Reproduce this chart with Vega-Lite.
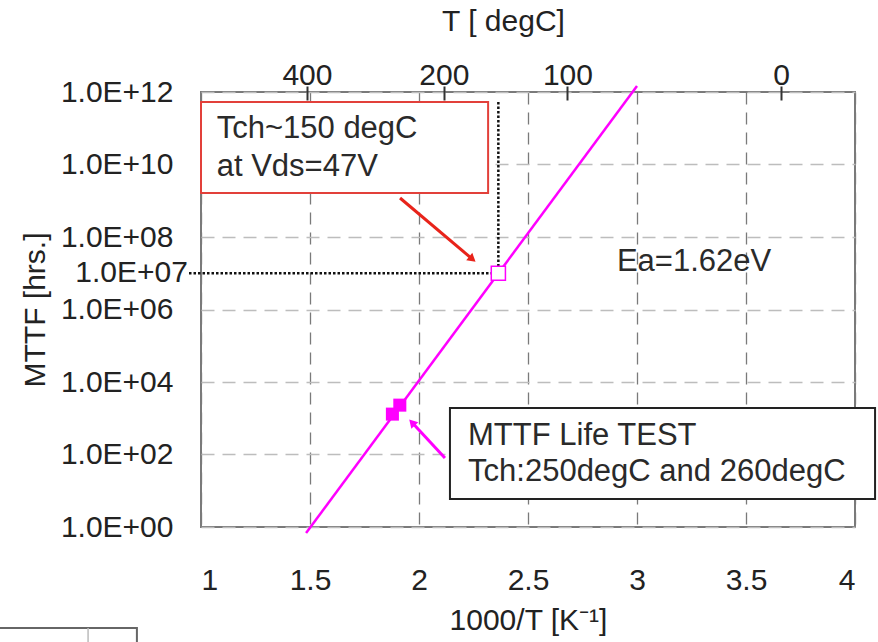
{
  "$schema": "https://vega.github.io/schema/vega-lite/v6.json",
  "width": 654,
  "height": 435,
  "autosize": {"type": "none"},
  "padding": {"left": 201, "top": 92, "right": 23, "bottom": 115},
  "background": "white",
  "config": {
    "view": {"stroke": "#7a7a7a", "strokeWidth": 2},
    "font": "Liberation Sans",
    "axis": {
      "labelFont": "Liberation Sans",
      "titleFont": "Liberation Sans",
      "labelFontSize": 30,
      "titleFontSize": 30,
      "labelColor": "#222222",
      "titleColor": "#222222",
      "titleFontWeight": "normal"
    }
  },
  "datasets": {
    "trend": [
      {"x": 1.482, "y": 0.68},
      {"x": 3.0, "y": 1.47e12}
    ],
    "life_test": [
      {"x": 1.912, "y": 2300},
      {"x": 1.878, "y": 1300}
    ],
    "target": [
      {"x": 2.364, "y": 1e7}
    ],
    "guides": [
      {"x": 0.945, "y": 1e7, "x2": 2.364, "y2": 1e7},
      {"x": 2.364, "y": 5.3e11, "x2": 2.364, "y2": 1e7}
    ],
    "red_box": [
      {"x": 1.0, "x2": 2.317, "y": 5.3e11, "y2": 1.64e9}
    ],
    "black_box": [
      {"x": 2.142, "x2": 4.092, "y": 1919, "y2": 5.92}
    ],
    "red_arrow": [
      {"x": 1.913, "y": 1.19e9, "x2": 2.245, "y2": 2.45e7}
    ],
    "pink_arrow": [
      {"x": 2.119, "y": 80, "x2": 1.968, "y2": 768}
    ],
    "box_notes": [
      {"x": 1.072, "y": 9.5e10, "label": "Tch~150 degC"},
      {"x": 1.072, "y": 8.5e9, "label": "at Vds=47V"}
    ],
    "notes": [
      {"x": 2.908, "y": 2.04e7, "label": "Ea=1.62eV"},
      {"x": 2.225, "y": 324, "label": "MTTF Life TEST"},
      {"x": 2.225, "y": 32.9, "label": "Tch:250degC and 260degC"}
    ],
    "y_mark": [
      {"x": 0.94, "y": 1e7, "label": "1.0E+07"}
    ],
    "corner_frame": [
      {"x": 0.06, "x2": 0.706, "y": 0.00164, "y2": 0.0001}
    ],
    "corner_divider": [
      {"x": 0.482, "y": 0.00164, "y2": 0.0001}
    ]
  },
  "layer": [
    {
      "data": {"name": "red_box"},
      "mark": {"type": "rect", "fill": "white", "stroke": "#e2403a", "strokeWidth": 2},
      "encoding": {
        "x": {"field": "x", "type": "quantitative", "scale": {"domain": [1, 4], "nice": false, "zero": false},
          "axis": {
            "orient": "bottom",
            "values": [1, 1.5, 2, 2.5, 3, 3.5, 4],
            "format": "~g",
            "grid": true,
            "gridColor": "#7a7a7a",
            "gridDash": [12, 8],
            "gridWidth": 1.3,
            "ticks": false,
            "domain": false,
            "labelPadding": 38,
            "title": "1000/T [K⁻¹]",
            "titlePadding": 10
          }
        },
        "x2": {"field": "x2"},
        "y": {"field": "y", "type": "quantitative", "scale": {"type": "log", "domain": [1, 1e12], "nice": false},
          "axis": {
            "values": [1, 100, 10000, 1000000, 100000000, 10000000000, 1000000000000],
            "labelExpr": "'1.0E+' + (round(log(datum.value) / LN10) < 10 ? '0' : '') + round(log(datum.value) / LN10)",
            "grid": true,
            "gridColor": "#bdbdbd",
            "gridDash": [13, 8],
            "gridWidth": 1.3,
            "ticks": false,
            "domain": false,
            "labelPadding": 28,
            "title": "MTTF [hrs.]",
            "titlePadding": 10
          }
        },
        "y2": {"field": "y2"}
      }
    },
    {
      "data": {"name": "guides"},
      "mark": {"type": "rule", "color": "#111111", "strokeWidth": 2.5, "strokeDash": [2.5, 2]},
      "encoding": {
        "x": {"field": "x", "type": "quantitative", "scale": {"domain": [1, 4], "nice": false, "zero": false}, "axis": null},
        "x2": {"field": "x2"},
        "y": {"field": "y", "type": "quantitative", "scale": {"type": "log", "domain": [1, 1e12], "nice": false}},
        "y2": {"field": "y2"}
      }
    },
    {
      "data": {"name": "trend"},
      "mark": {"type": "line", "color": "#ff00ff", "strokeWidth": 2.5},
      "encoding": {
        "x": {"field": "x", "type": "quantitative", "scale": {"domain": [1, 4], "nice": false, "zero": false}, "axis": null},
        "y": {"field": "y", "type": "quantitative", "scale": {"type": "log", "domain": [1, 1e12], "nice": false}}
      }
    },
    {
      "data": {"name": "target"},
      "mark": {"type": "point", "shape": "square", "size": 200, "fill": "white", "stroke": "#ff00ff", "strokeWidth": 1.5, "opacity": 1},
      "encoding": {
        "x": {"field": "x", "type": "quantitative", "scale": {"domain": [1, 4], "nice": false, "zero": false}, "axis": null},
        "y": {"field": "y", "type": "quantitative", "scale": {"type": "log", "domain": [1, 1e12], "nice": false}}
      }
    },
    {
      "data": {"name": "life_test"},
      "mark": {"type": "point", "shape": "square", "size": 170, "filled": true, "color": "#ff00ff", "opacity": 1},
      "encoding": {
        "x": {"field": "x", "type": "quantitative", "scale": {"domain": [1, 4], "nice": false, "zero": false},
          "axis": {
            "orient": "top",
            "values": [1.486, 2.114, 2.681, 3.661],
            "labelExpr": "'' + round(1000 / datum.value - 273)",
            "offset": -8,
            "tickSize": 14,
            "tickColor": "#333333",
            "tickWidth": 2,
            "domain": false,
            "grid": false,
            "labelPadding": -4,
            "title": "T [ degC]",
            "titleX": 302,
            "titlePadding": 24
          }
        },
        "y": {"field": "y", "type": "quantitative", "scale": {"type": "log", "domain": [1, 1e12], "nice": false}}
      }
    },
    {
      "data": {"name": "red_arrow"},
      "mark": {"type": "rule", "color": "#e8231a", "strokeWidth": 3},
      "encoding": {
        "x": {"field": "x", "type": "quantitative", "scale": {"domain": [1, 4], "nice": false, "zero": false}, "axis": null},
        "x2": {"field": "x2"},
        "y": {"field": "y", "type": "quantitative", "scale": {"type": "log", "domain": [1, 1e12], "nice": false}},
        "y2": {"field": "y2"}
      }
    },
    {
      "data": {"name": "red_arrow"},
      "mark": {"type": "point", "shape": "triangle-up", "size": 90, "filled": true, "color": "#e8231a", "opacity": 1, "angle": 130},
      "encoding": {
        "x": {"field": "x2", "type": "quantitative", "scale": {"domain": [1, 4], "nice": false, "zero": false}, "axis": null},
        "y": {"field": "y2", "type": "quantitative", "scale": {"type": "log", "domain": [1, 1e12], "nice": false}}
      }
    },
    {
      "data": {"name": "pink_arrow"},
      "mark": {"type": "rule", "color": "#ff00ff", "strokeWidth": 3},
      "encoding": {
        "x": {"field": "x", "type": "quantitative", "scale": {"domain": [1, 4], "nice": false, "zero": false}, "axis": null},
        "x2": {"field": "x2"},
        "y": {"field": "y", "type": "quantitative", "scale": {"type": "log", "domain": [1, 1e12], "nice": false}},
        "y2": {"field": "y2"}
      }
    },
    {
      "data": {"name": "pink_arrow"},
      "mark": {"type": "point", "shape": "triangle-up", "size": 90, "filled": true, "color": "#ff00ff", "opacity": 1, "angle": 317},
      "encoding": {
        "x": {"field": "x2", "type": "quantitative", "scale": {"domain": [1, 4], "nice": false, "zero": false}, "axis": null},
        "y": {"field": "y2", "type": "quantitative", "scale": {"type": "log", "domain": [1, 1e12], "nice": false}}
      }
    },
    {
      "data": {"name": "black_box"},
      "mark": {"type": "rect", "fill": "white", "stroke": "#222222", "strokeWidth": 2},
      "encoding": {
        "x": {"field": "x", "type": "quantitative", "scale": {"domain": [1, 4], "nice": false, "zero": false}, "axis": null},
        "x2": {"field": "x2"},
        "y": {"field": "y", "type": "quantitative", "scale": {"type": "log", "domain": [1, 1e12], "nice": false}},
        "y2": {"field": "y2"}
      }
    },
    {
      "data": {"name": "box_notes"},
      "mark": {"type": "text", "align": "left", "baseline": "middle", "fontSize": 31, "color": "#2a2a2a", "font": "Liberation Sans"},
      "encoding": {
        "x": {"field": "x", "type": "quantitative", "scale": {"domain": [1, 4], "nice": false, "zero": false}, "axis": null},
        "y": {"field": "y", "type": "quantitative", "scale": {"type": "log", "domain": [1, 1e12], "nice": false}},
        "text": {"field": "label"}
      }
    },
    {
      "data": {"name": "notes"},
      "mark": {"type": "text", "align": "left", "baseline": "middle", "fontSize": 31, "color": "#2a2a2a", "font": "Liberation Sans"},
      "encoding": {
        "x": {"field": "x", "type": "quantitative", "scale": {"domain": [1, 4], "nice": false, "zero": false}, "axis": null},
        "y": {"field": "y", "type": "quantitative", "scale": {"type": "log", "domain": [1, 1e12], "nice": false}},
        "text": {"field": "label"}
      }
    },
    {
      "data": {"name": "y_mark"},
      "mark": {"type": "text", "align": "right", "baseline": "middle", "fontSize": 30, "color": "#222222", "font": "Liberation Sans"},
      "encoding": {
        "x": {"field": "x", "type": "quantitative", "scale": {"domain": [1, 4], "nice": false, "zero": false}, "axis": null},
        "y": {"field": "y", "type": "quantitative", "scale": {"type": "log", "domain": [1, 1e12], "nice": false}},
        "text": {"field": "label"}
      }
    },
    {
      "data": {"name": "corner_frame"},
      "mark": {"type": "rect", "fill": null, "stroke": "#666666", "strokeWidth": 2},
      "encoding": {
        "x": {"field": "x", "type": "quantitative", "scale": {"domain": [1, 4], "nice": false, "zero": false}, "axis": null},
        "x2": {"field": "x2"},
        "y": {"field": "y", "type": "quantitative", "scale": {"type": "log", "domain": [1, 1e12], "nice": false}},
        "y2": {"field": "y2"}
      }
    },
    {
      "data": {"name": "corner_divider"},
      "mark": {"type": "rule", "color": "#bbbbbb", "strokeWidth": 1.5},
      "encoding": {
        "x": {"field": "x", "type": "quantitative", "scale": {"domain": [1, 4], "nice": false, "zero": false}, "axis": null},
        "y": {"field": "y", "type": "quantitative", "scale": {"type": "log", "domain": [1, 1e12], "nice": false}},
        "y2": {"field": "y2"}
      }
    }
  ],
  "resolve": {"axis": {"x": "independent"}}
}
